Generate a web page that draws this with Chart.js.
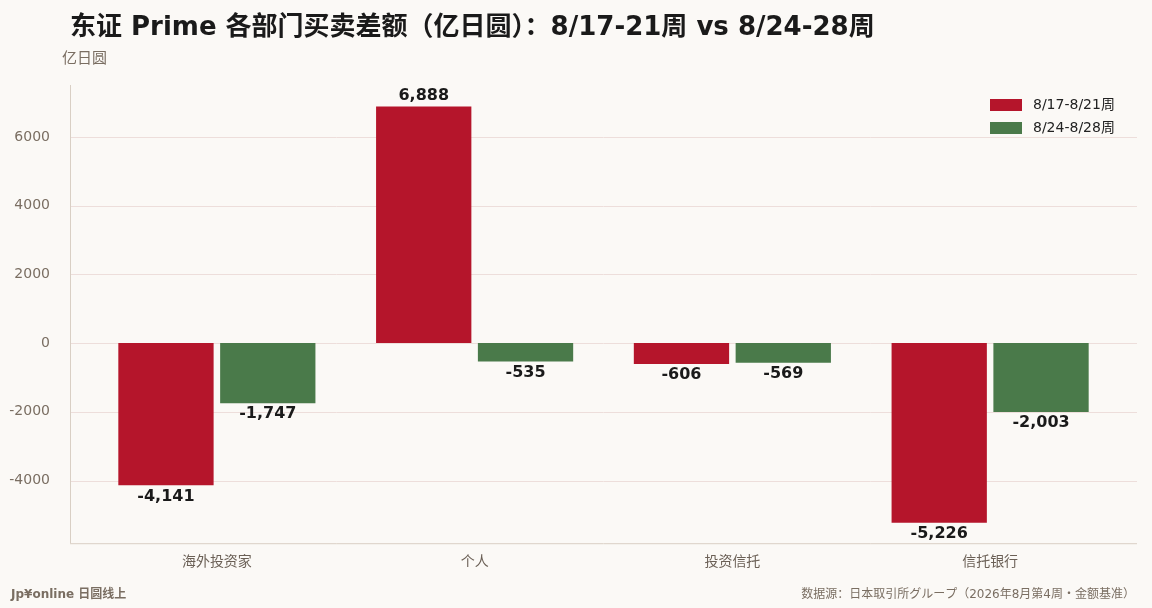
<!DOCTYPE html>
<html><head><meta charset="utf-8">
<script src="https://cdn.jsdelivr.net/npm/chart.js@4"></script>
<style>html,body{margin:0;background:#FBF9F6;}#w{width:1152px;height:608px;}</style>
</head><body><div id="w"><canvas id="c"></canvas></div>
<script>
const categories=["海外投资家","个人","投资信托","信托银行"];
const seriesNames=["8/17-8/21周","8/24-8/28周"];
const week1=[-4141,6888,-606,-5226];
const week2=[-1747,-535,-569,-2003];
const yTicks=[-4000,-2000,0,2000,4000,6000];
const F='"DejaVu Sans","Noto Sans CJK SC",sans-serif';
const colors=["#B5152B","#4A7A4A"];
const L=70,R=1137;
const grid={id:'grid',beforeDatasetsDraw(ch){
 const c=ch.ctx,y=ch.scales.y,a=ch.chartArea;c.save();
 c.strokeStyle='#EDDEDB';c.lineWidth=1;
 yTicks.forEach(v=>{const p=Math.round(y.getPixelForValue(v))+0.5;c.beginPath();c.moveTo(L,p);c.lineTo(R,p);c.stroke();});
 c.strokeStyle='#d9cfc4';c.beginPath();c.moveTo(L+0.5,a.top);c.lineTo(L+0.5,a.bottom);c.moveTo(L,a.bottom+0.5);c.lineTo(R,a.bottom+0.5);c.stroke();
 c.restore();}};
const deco={id:'deco',afterDraw(ch){
 const c=ch.ctx;c.save();
 c.fillStyle='#1a1a1a';c.font='bold 26px '+F;c.textBaseline='middle';c.textAlign='left';
 c.fillText('东证 Prime 各部门买卖差额（亿日圆）：8/17-21周 vs 8/24-28周',70,28);
 c.fillStyle='#7a6e62';c.font='15px '+F;c.fillText('亿日圆',62,59);
 c.font='bold 12px '+F;c.fillText('Jp¥online 日圆线上',11,595);
 c.font='12px '+F;c.textAlign='right';c.fillText('数据源：日本取引所グループ（2026年8月第4周・金额基准）',1135,595);
 c.textAlign='left';c.font='14px '+F;
 seriesNames.forEach((n,i)=>{const y=105+i*23;c.fillStyle=colors[i];c.fillRect(990,y-6,32,12);c.fillStyle='#222';c.fillText(n,1033,y);});
 c.font='bold 16px '+F;c.textAlign='center';c.fillStyle='#1a1a1a';
 ch.data.datasets.forEach((ds,di)=>{ch.getDatasetMeta(di).data.forEach((b,i)=>{const v=ds.data[i];
  c.textBaseline=v>=0?'bottom':'top';c.fillText(v.toLocaleString('en-US'),b.x,v>=0?b.y-3:b.y+3);});});
 c.restore();}};
new Chart(document.getElementById('c'),{type:'bar',
 data:{labels:categories,datasets:[
  {label:seriesNames[0],data:week1,backgroundColor:colors[0],categoryPercentage:0.79,barPercentage:0.936},
  {label:seriesNames[1],data:week2,backgroundColor:colors[1],categoryPercentage:0.79,barPercentage:0.936}]},
 options:{responsive:true,maintainAspectRatio:false,animation:false,
  layout:{padding:{top:85,right:33,bottom:34,left:0}},
  plugins:{legend:{display:false},tooltip:{enabled:false}},
  scales:{
   x:{grid:{display:false},border:{display:false},ticks:{color:'#6b6056',font:{family:F,size:14}}},
   y:{min:-5825,max:7515,afterFit:s=>{s.width=88;},
    afterBuildTicks:s=>{s.ticks=yTicks.map(v=>({value:v}));},
    grid:{display:false},border:{display:false},
    ticks:{color:'#7a6e62',padding:30,font:{family:F,size:14},callback:v=>String(v)}}}},
 plugins:[grid,deco]});
</script></body></html>
